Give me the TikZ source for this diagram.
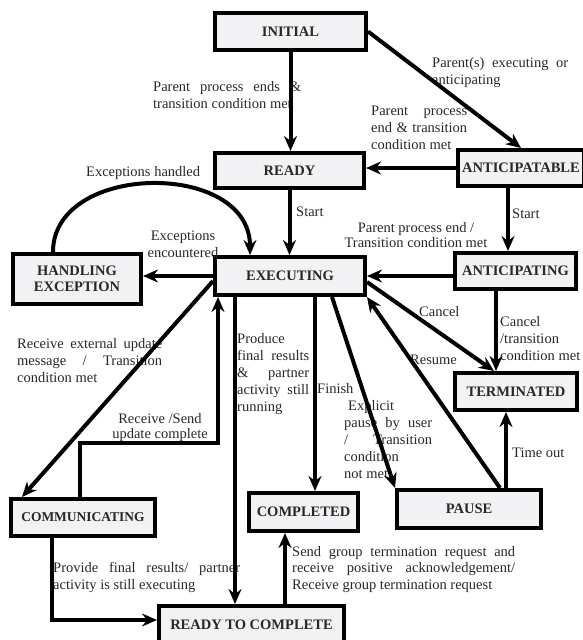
\documentclass[tikz,border=0pt]{standalone}
\usepackage{fontspec}
\setmainfont{Liberation Serif}
\usetikzlibrary{arrows.meta,calc}
\definecolor{boxfill}{RGB}{242,242,244}
\definecolor{labtext}{RGB}{40,40,40}
\begin{document}
\hyphenpenalty=10000
\tolerance=10000
\begin{tikzpicture}[x=1pt,y=-1pt,
  box/.style={draw=black, line width=4pt, fill=boxfill, inner sep=0pt,
    font=\bfseries\fontsize{14.5}{16}\selectfont, text=labtext, align=center},
  lbl/.style={inner sep=0pt, font=\fontsize{14.5}{17}\selectfont, text=labtext, anchor=base west},
  arr/.style={line width=4pt, -{Stealth[length=15pt,width=13pt,inset=5pt]}}]
\useasboundingbox (0,0) rectangle (582,640);

% states
\node[box, minimum width=151pt, minimum height=37pt] (init) at (290.5,31.5) {INITIAL};
\node[box, minimum width=149pt, minimum height=35pt] (ready) at (289.5,170.5) {READY};
\node[box, minimum width=126pt, minimum height=36pt] (antb) at (521,168) {ANTICIPATABLE};
\node[box, minimum width=150pt, minimum height=38pt] (exec) at (290,276) {EXECUTING};
\node[box, minimum width=128pt, minimum height=50pt] (hand) at (77,279) {HANDLING\\EXCEPTION};
\node[box, minimum width=121pt, minimum height=36pt] (antg) at (515.5,271) {ANTICIPATING};
\node[box, minimum width=122pt, minimum height=37pt] (term) at (516,391.5) {TERMINATED};
\node[box, minimum width=144pt, minimum height=38pt] (pause) at (469,509) {PAUSE};
\node[box, minimum width=109pt, minimum height=38pt] (compl) at (303.5,512) {COMPLETED};
\node[box, minimum width=144pt, minimum height=37pt, font=\bfseries\fontsize{13.5}{16}\selectfont] (comm) at (83,517.5) {COMMUNICATING};
\node[box, minimum width=185pt, minimum height=38pt] (rtc) at (251.5,625) {READY TO COMPLETE};

% labels
\node[lbl, text width=148pt, align=justify] (lA) at (153,91) {Parent process ends \&\linebreak transition condition met};
\node[lbl, text width=136pt, align=justify] (lB) at (432,67) {Parent(s) executing or\linebreak anticipating};
\node[lbl, text width=96pt, align=justify] (lC) at (371,115) {Parent process\linebreak end \& transition\linebreak condition met};
\node[lbl] (lD) at (296,216) {Start};
\node[lbl] (lE) at (512,218) {Start};
\node[lbl] (lF) at (86,176) {Exceptions handled};
\node[lbl, anchor=base, align=center] (lG) at (183,257) {Exceptions\\encountered};
\node[lbl, text width=145pt, align=justify] (lH) at (17,348) {Receive external update\linebreak message / Transition\linebreak condition met};
\node[lbl, anchor=base, align=center, font=\fontsize{14.5}{15}\selectfont] (lI) at (160,438) {Receive /Send\\update complete};
\node[lbl, anchor=base, align=center, font=\fontsize{14.5}{15}\selectfont] (lJ) at (416,247) {Parent process end /\\Transition condition met};
\node[lbl, text width=72pt, align=justify] (lK) at (237,343) {Produce\linebreak final results\linebreak \& partner\linebreak activity still\linebreak running};
\node[lbl] (lL) at (317,393) {Finish};
\node[lbl, text width=88pt, align=justify] (lM) at (344,410) {\hspace*{4pt}Explicit\linebreak pause by user\linebreak / Transition\linebreak condition\linebreak not met};
\node[lbl] (lN) at (410,364) {Resume};
\node[lbl] (lO) at (419,316) {Cancel};
\node[lbl, align=left] (lP) at (500,360) {Cancel\\/transition\\condition met};
\node[lbl] (lQ) at (512,457) {Time out};
\node[lbl, text width=187pt, align=justify] (lR) at (53,572) {Provide final results/ partner\linebreak activity is still executing};
\node[lbl, text width=223pt, align=justify, font=\fontsize{14.5}{16.5}\selectfont] (lS) at (292,556) {Send group termination request and\linebreak receive positive acknowledgement/\linebreak Receive group termination request};

% connector helper points
\coordinate (a1) at ($(antb.south)+(-13,0)$);
\coordinate (h1) at ($(hand.north)+(-24,0)$);
\coordinate (e1) at ($(exec.north)+(-40,0)$);
\coordinate (e2) at ($(exec.west)+(0,5)$);
\coordinate (c1) at ($(comm.north west)+(13,0)$);
\coordinate (c2) at ($(comm.north)+(-3,0)$);
\coordinate (e3) at ($(exec.south)+(-72,0)$);
\coordinate (e4) at ($(exec.south)+(-55,0)$);
\coordinate (e5) at ($(exec.south)+(25,0)$);
\coordinate (e6) at ($(exec.south)+(42,0)$);
\coordinate (p2) at ($(pause.north)+(31,0)$);
\coordinate (e7) at ($(exec.east)+(0,6)$);
\coordinate (t1) at ($(term.north)+(-22,0)$);
\coordinate (g1) at ($(antg.south)+(-19.5,0)$);
\coordinate (p3) at ($(pause.north)+(37,0)$);
\coordinate (c3) at ($(comm.south)+(-31,0)$);
\coordinate (r1) at ($(rtc.north)+(33.5,0)$);

% connectors
\draw[arr] (init.south) -- (init.south |- ready.north);
\draw[arr] (init.east) -- (antb.north);
\draw[arr] (antb.west) -- (antb.west -| ready.east);
\draw[arr] (ready.south) -- (ready.south |- exec.north);
\draw[arr] (a1) -- (a1 |- antg.north);
\draw[arr] (exec.east -| antg.west) -- (exec.east);
\draw[arr] (exec.west) -- (exec.west -| hand.east);
\draw[arr] (h1) .. controls ($(h1)+(0,-90)$) and ($(e1)+(0,-95)$) .. (e1);
\draw[arr] (e2) -- (c1);
\draw[arr] (c2) |- ($(e3)+(0,146)$) -- (e3);
\draw[arr] (e4) -- (e4 |- rtc.north);
\draw[arr] (e5) -- (e5 |- compl.north);
\draw[arr] (e6) -- (pause.north west);
\draw[arr] (p2) -- (exec.south east);
\draw[arr] (e7) -- (t1);
\draw[arr] (g1) -- (g1 |- term.north);
\draw[arr] (p3) -- (p3 |- term.south);
\draw[arr] (c3) |- ($(rtc.west)+(0,-5)$);
\draw[arr] (r1) -- (r1 |- compl.south);
\end{tikzpicture}
\end{document}
